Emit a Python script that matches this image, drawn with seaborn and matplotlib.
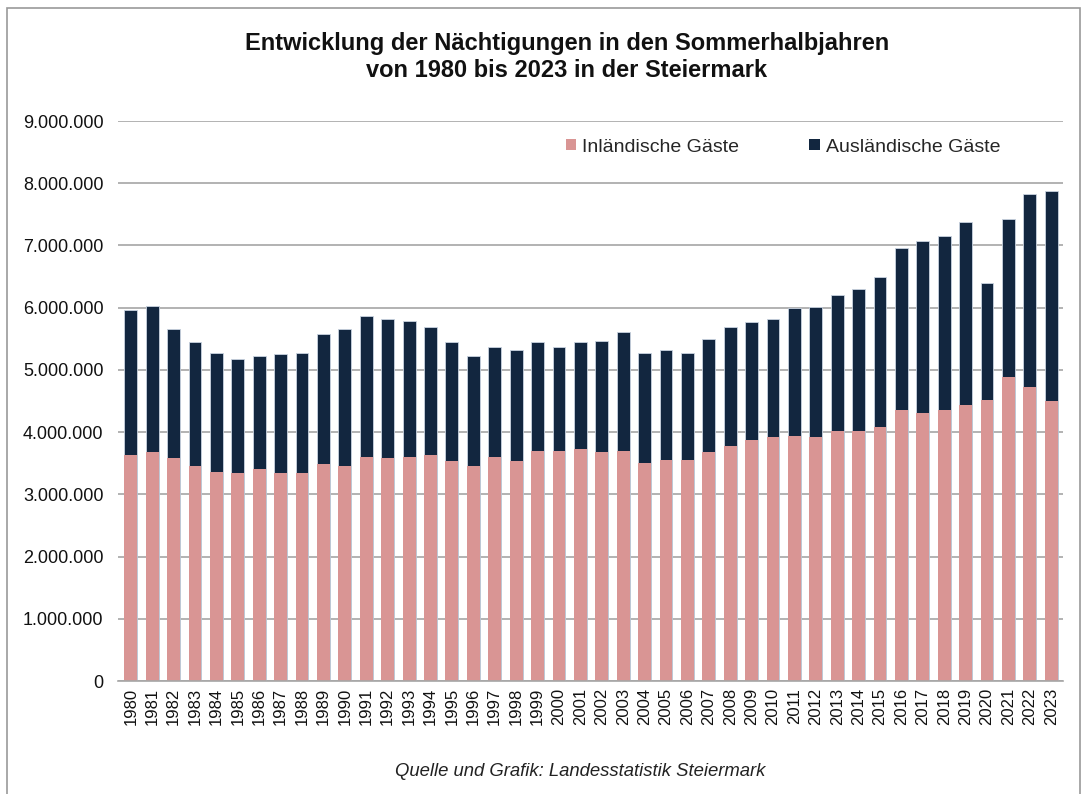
import matplotlib
matplotlib.use("Agg")
import matplotlib.pyplot as plt
import seaborn as sns
import pandas as pd
from matplotlib.patches import Patch, Rectangle
from matplotlib.ticker import FuncFormatter

years = [str(y) for y in range(1980, 2024)]
inland = [3632000, 3675000, 3579000, 3455000, 3359000, 3338000, 3407000, 3338000, 3338000, 3482000,
          3455000, 3600000, 3579000, 3600000, 3627000, 3531000, 3455000, 3600000, 3531000, 3697000,
          3697000, 3724000, 3675000, 3697000, 3504000, 3552000, 3552000, 3675000, 3772000, 3868000,
          3922000, 3943000, 3922000, 4013000, 4013000, 4088000, 4361000, 4307000, 4361000, 4431000,
          4511000, 4891000, 4720000, 4505000]
ausland = [2326000, 2357000, 2083000, 1993000, 1918000, 1842000, 1816000, 1912000, 1939000, 2090000,
           2207000, 2261000, 2234000, 2186000, 2062000, 1917000, 1768000, 1773000, 1794000, 1751000,
           1676000, 1724000, 1795000, 1917000, 1773000, 1773000, 1725000, 1822000, 1920000, 1894000,
           1891000, 2047000, 2089000, 2191000, 2287000, 2410000, 2593000, 2770000, 2791000, 2941000,
           1886000, 2529000, 3112000, 3375000]
series_labels = ["Inländische Gäste", "Ausländische Gäste"]
title = "Entwicklung der Nächtigungen in den Sommerhalbjahren\nvon 1980 bis 2023 in der Steiermark"
source = "Quelle und Grafik: Landesstatistik Steiermark"

PINK = "#D99594"
NAVY = "#12263F"
GRID = "#A6A6A6"

sns.set_theme(style="white")
plt.rcParams["font.family"] = ["Liberation Sans", "DejaVu Sans"]

df = pd.DataFrame({"Jahr": years, "Inland": inland, "Ausland": ausland})
df["Gesamt"] = df["Inland"] + df["Ausland"]

fig = plt.figure(figsize=(10.87, 7.94), dpi=100)
ax = fig.add_axes([118 / 1087, 1 - 681 / 794, (1063 - 118) / 1087, (681 - 121) / 794])

sns.barplot(data=df, x="Jahr", y="Gesamt", color=NAVY, saturation=1, width=0.6,
            edgecolor="#c9d3e0", linewidth=0.6, ax=ax, zorder=3)
sns.barplot(data=df, x="Jahr", y="Inland", color=PINK, saturation=1, width=0.6,
            linewidth=0, ax=ax, zorder=4)

ax.set_ylim(0, 9000000)
ax.set_xlim(-0.6, len(years) - 0.45)
ax.set_yticks(range(0, 9000001, 1000000))
ax.yaxis.set_major_formatter(FuncFormatter(lambda v, p: f"{int(v):,}".replace(",", ".")))
ax.grid(axis="y", color=GRID, linewidth=1.2, zorder=0)
ax.set_axisbelow(True)
for s in ["top", "right", "left"]:
    ax.spines[s].set_visible(False)
ax.spines["bottom"].set_color(GRID)
ax.spines["bottom"].set_linewidth(1.2)
ax.spines["bottom"].set_zorder(5)
ax.tick_params(axis="both", length=0)
ax.tick_params(axis="y", labelsize=13, pad=10.5, labelcolor="#111111")
ax.tick_params(axis="x", labelsize=12, pad=5, labelcolor="#111111")
plt.setp(ax.get_xticklabels(), rotation=90)
ax.set_xlabel("")
ax.set_ylabel("")

handles = [Patch(facecolor=PINK, edgecolor="none"), Patch(facecolor=NAVY, edgecolor="none")]
fig.legend(handles, series_labels, loc="center", bbox_to_anchor=(783 / 1087, 1 - 147 / 794),
           ncol=2, frameon=False, fontsize=14, handlelength=0.55, handleheight=0.55,
           handletextpad=0.3, columnspacing=3.6)

fig.text(567 / 1087, 1 - 57 / 794, title, ha="center", va="center", fontsize=17,
         fontweight="bold", linespacing=1.25, color="#111111")
fig.text(580 / 1087, 1 - 771 / 794, source, ha="center", va="center", fontsize=13.3,
         style="italic", color="#222222")

fig.patches.append(Rectangle((7 / 1087, -0.01), (1080 - 7) / 1087, 1 - 8 / 794 + 0.01,
                             transform=fig.transFigure, fill=False, edgecolor="#999999",
                             linewidth=1.2))

fig.savefig("out.png", dpi=100)
